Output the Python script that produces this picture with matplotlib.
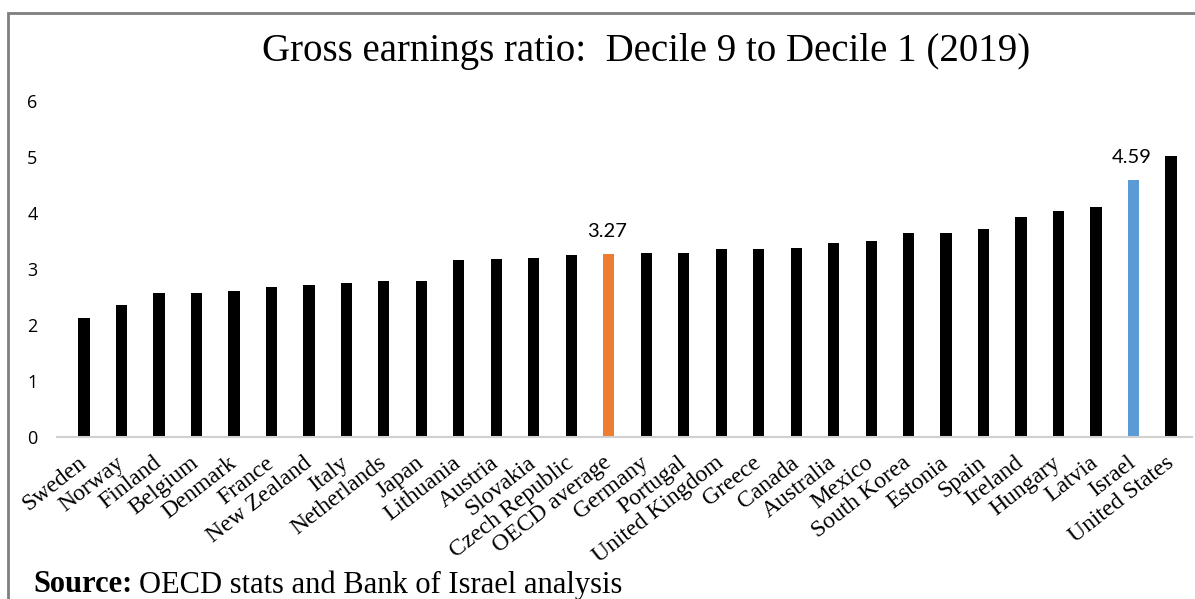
import matplotlib.pyplot as plt
from matplotlib.patches import Rectangle
from matplotlib.transforms import ScaledTranslation

# Decile 9 / decile 1 gross earnings ratios, 2019
countries = ['Sweden', 'Norway', 'Finland', 'Belgium', 'Denmark', 'France',
             'New Zealand', 'Italy', 'Netherlands', 'Japan', 'Lithuania',
             'Austria', 'Slovakia', 'Czech Republic', 'OECD average', 'Germany',
             'Portugal', 'United Kingdom', 'Greece', 'Canada', 'Australia',
             'Mexico', 'South Korea', 'Estonia', 'Spain', 'Ireland', 'Hungary',
             'Latvia', 'Israel', 'United States']
ratios = [2.12, 2.36, 2.57, 2.57, 2.60, 2.68, 2.71, 2.75, 2.79, 2.79, 3.16,
          3.18, 3.20, 3.25, 3.27, 3.29, 3.29, 3.36, 3.36, 3.38, 3.46, 3.50,
          3.64, 3.64, 3.71, 3.93, 4.04, 4.11, 4.59, 5.02]
highlight = {'OECD average': '#ED7D31', 'Israel': '#5B9BD5'}

colors = [highlight.get(c, 'black') for c in countries]
x = range(len(countries))

fig = plt.figure(figsize=(11.95, 5.99), dpi=100)
ax = fig.add_axes([57 / 1195, 162 / 599, (1192 - 57) / 1195, 336 / 599])

ax.bar(x, ratios, width=0.3, color=colors)
ax.set_xlim(-0.72, len(countries) - 0.44)
ax.set_ylim(0, 6)

# value labels on the highlighted bars
for i, c in enumerate(countries):
    if c in highlight:
        ax.annotate(f'{ratios[i]:.2f}', (i, ratios[i]), xytext=(-1, 10),
                    textcoords='offset points', ha='center', va='bottom',
                    fontsize=14.5, family='Lato')

ax.set_xticks(list(x))
ax.set_xticklabels(countries, rotation=38, ha='right', va='center',
                   rotation_mode='anchor', family='Liberation Serif', fontsize=17)
shift = ScaledTranslation(7 / 72, 0, fig.dpi_scale_trans)
for lbl in ax.get_xticklabels():
    lbl.set_transform(lbl.get_transform() + shift)
ax.set_yticks(range(7))
ax.set_yticklabels([str(v) for v in range(7)], family='Open Sans', fontsize=13)
ax.tick_params(axis='x', length=0, pad=17)
ax.tick_params(axis='y', length=0, pad=14)

for side in ['top', 'right', 'left']:
    ax.spines[side].set_visible(False)
ax.spines['bottom'].set_color('#d0d0d0')
ax.spines['bottom'].set_linewidth(1.5)

fig.text(646 / 1195, 1 - 51 / 599, 'Gross earnings ratio:  Decile 9 to Decile 1 (2019)',
         ha='center', va='center', family='Liberation Serif', fontsize=28)

# source line: bold lead-in followed by regular text
src = fig.text(33 / 1195, 1 - 585 / 599, 'Source:', ha='left', va='center',
               family='Liberation Serif', fontsize=22, fontweight='bold')
fig.canvas.draw()
bb = src.get_window_extent()
fig.text((bb.x1 + 7) / 1195, 1 - 585 / 599, 'OECD stats and Bank of Israel analysis',
         ha='left', va='center', family='Liberation Serif', fontsize=22)

# outer frame
fig.patches.append(Rectangle((8 / 1195, -0.05), 1.1, 1 - 13 / 599 + 0.05,
                             transform=fig.transFigure, fill=False,
                             edgecolor='#7f7f7f', linewidth=2, clip_on=False))

fig.savefig('out.png', dpi=100)
